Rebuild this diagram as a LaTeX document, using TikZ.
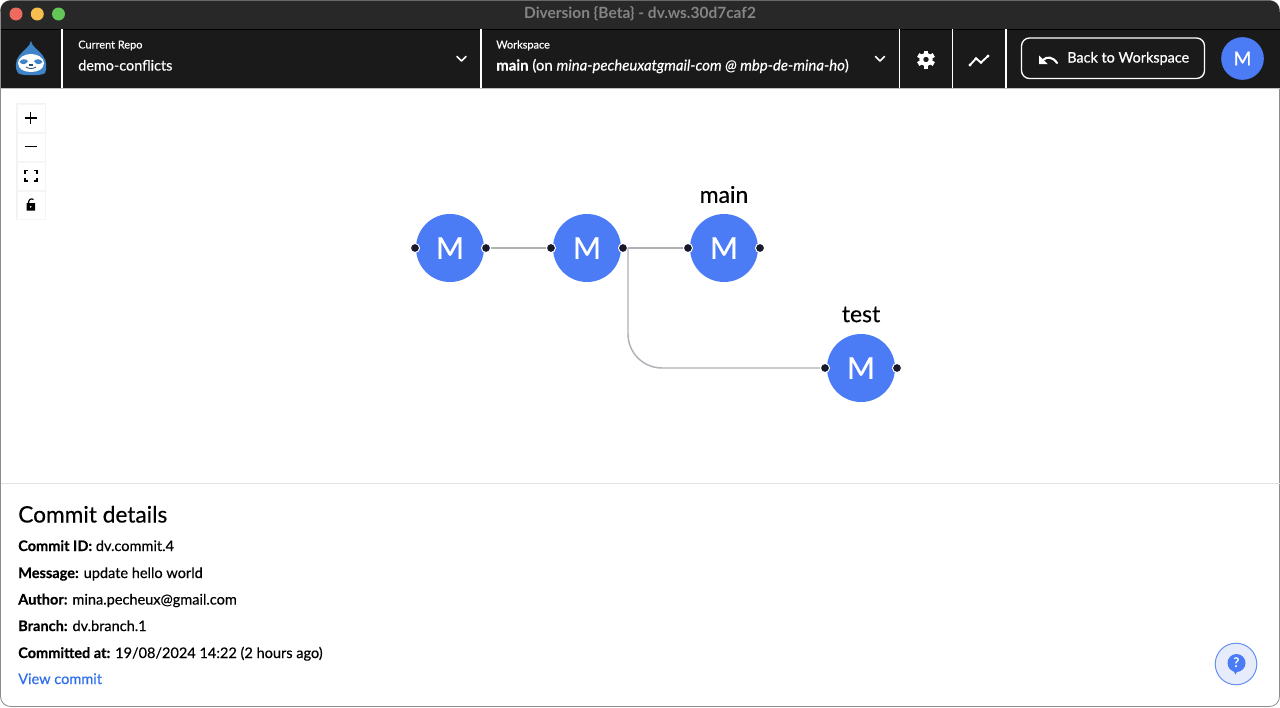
\documentclass[tikz,border=0pt]{standalone}
\usepackage{fontspec}
\setmainfont{Lato}
\newfontfamily\medfont[RawFeature={embolden=0.35}]{Lato}
\newfontfamily\semifont[RawFeature={embolden=0.7}]{Lato}
\usetikzlibrary{calc}
\definecolor{titlebar}{HTML}{282828}
\definecolor{barblack}{HTML}{1A1A1A}
\definecolor{nodeblue}{HTML}{4B7BF5}
\definecolor{edgegrey}{HTML}{B1B1B7}
\definecolor{handleblack}{HTML}{1A192B}
\definecolor{linkblue}{HTML}{2F6FED}
\definecolor{panelline}{HTML}{E2E2E2}
\definecolor{helpfill}{HTML}{E6ECFC}
\definecolor{logoblue}{HTML}{3F83C8}
\tikzset{
  x=0.75pt,y=-0.75pt,
  commit/.style={circle,fill=nodeblue,minimum size=51pt,inner sep=0pt,text=white,font=\semifont\fontsize{22.5}{24}\selectfont},
  handle/.style={circle,fill=handleblack,draw=white,line width=0.75pt,minimum size=6.8pt,inner sep=0pt},
  edge/.style={draw=edgegrey,line width=1.1pt},
  branch/.style={font=\medfont\fontsize{17.2}{20}\selectfont,text=black},
  barlabel/.style={anchor=base west,text=white,inner sep=0pt,font=\medfont\fontsize{8.2}{10}\selectfont},
  barvalue/.style={anchor=base west,text=white,inner sep=0pt,font=\medfont\fontsize{10.8}{13}\selectfont},
  sep/.style={draw=white,line width=1pt},
  chev/.style={draw=white,line width=1.3pt,line cap=round,line join=round},
  detail/.style={anchor=base west,inner sep=0pt,font=\medfont\fontsize{10.9}{13}\selectfont,text=black},
  ctrl/.style={draw=black!4,fill=white,line width=0.5pt},
  ctrlicon/.style={draw=black,line width=1pt},
}
\begin{document}
\begin{tikzpicture}
\useasboundingbox (0,0) rectangle (1280,707);
\fill[white] (0,0) rectangle (1280,707);
% window
\draw[fill=white,draw=black!45,line width=0.6pt,rounded corners=7.5pt] (0.5,0.5) rectangle (1279.5,706.5);
\fill[titlebar,rounded corners=7.5pt] (0.5,0.5) rectangle (1279.5,20);
\fill[titlebar] (0.5,12) rectangle (1279.5,29);
\fill[barblack] (0.5,29) rectangle (1279.5,88);
\draw[black,line width=0.5pt] (0.5,29) -- (1279.5,29);
\draw[draw=black!25,line width=0.6pt] (0.5,88.5) -- (1279.5,88.5);
\node[text=black!48!white,font=\bfseries\fontsize{11.6}{14}\selectfont,inner sep=0pt] (title) at (640,13.5) {Diversion \{Beta\} - dv.ws.30d7caf2};
\fill[color={rgb,255:red,238;green,106;blue,95}] (16,14) circle (6.5);
\fill[color={rgb,255:red,245;green,190;blue,79}] (37.3,14) circle (6.5);
\fill[color={rgb,255:red,98;green,197;blue,85}] (58.5,14) circle (6.5);
% logo
\fill[logoblue] (31,41) .. controls (32,47) and (38,49) .. (43,56) .. controls (47,60) and (47,70) .. (45,73) .. controls (43,76) and (20,76) .. (18,73) .. controls (15,70) and (15,60) .. (19,56) .. controls (23,50) and (30,47) .. (31,41) -- cycle;
\fill[white] (31,54) .. controls (38,54) and (44,58) .. (44,63) .. controls (44,69) and (38,72) .. (31,72) .. controls (24,72) and (18,69) .. (18,63) .. controls (18,58) and (24,54) .. (31,54) -- cycle;
\fill[logoblue] (19.5,62) .. controls (22,58) and (26,59) .. (28,61) .. controls (26,65) and (22,65) .. (19.5,62) -- cycle;
\fill[logoblue] (42.5,62) .. controls (40,58) and (36,59) .. (34,61) .. controls (36,65) and (40,65) .. (42.5,62) -- cycle;
\fill[logoblue!60!black] (29,63.5) rectangle (33,65.5);
\draw[logoblue!60!black,line width=0.6pt] (26,67) .. controls (29,69) and (33,69) .. (36,67);
% separators
\foreach \xx in {62,481,899.5,952.5,1006}{\draw[sep] (\xx,29) -- (\xx,88);}
% bar texts
\node[barlabel] (repoLabel) at (78,48.5) {Current Repo};
\node[barvalue] (repoValue) at (78,70.5) {demo-conflicts};
\node[barlabel] (wsLabel) at (496,48.5) {Workspace};
\node[barvalue,font=\medfont\fontsize{11.2}{13}\selectfont] (wsValue) at (496,70.5) {\textbf{main} (on \textit{mina-pecheuxatgmail-com @ mbp-de-mina-ho})};
\draw[chev] (457,56.5) -- (461.5,61) -- (466,56.5);
\draw[chev] (875.5,56.5) -- (880,61) -- (884.5,56.5);
% gear
\fill[white,even odd rule] (926,59.5) circle (6.6) (926,59.5) circle (2.8);
\foreach \a in {0,60,...,300}{\fill[white,rotate around={\a:(926,59.5)}] (923.8,50.5) rectangle (928.2,55);}
% activity
\draw[white,line width=1.4pt,line join=round,line cap=round] (970,65) -- (976,58.5) -- (981,62.5) -- (988,56);
\foreach \p in {(970,65),(976,58.5),(981,62.5),(988,56)}{\fill[white] \p circle (1.7);}
% back button
\draw[white,line width=1pt,rounded corners=6pt,fill=barblack] (1021.5,38) rectangle (1204.5,78.5);
\draw[white,line width=1.6pt,line cap=round] (1043,60) .. controls (1047,56) and (1053,57) .. (1057,63);
\fill[white] (1039,55.5) -- (1039,64) -- (1047.5,64) -- cycle;
\node[anchor=base west,text=white,inner sep=0pt,font=\semifont\fontsize{10.8}{13}\selectfont] (back) at (1067,62.5) {Back to Workspace};
\node[circle,fill=nodeblue,minimum size=32pt,inner sep=0pt,text=white,font=\semifont\fontsize{14.5}{16}\selectfont] (avatar) at (1242.5,58.5) {M};
% zoom controls
\fill[black!5] (16,103) rectangle (46,220);
\foreach \yy in {104,133,162,191}{\filldraw[ctrl] (17,\yy) rectangle (45,\yy+28.5);}
\draw[ctrlicon] (24.5,118) -- (37,118) (30.75,111.5) -- (30.75,124);
\draw[ctrlicon] (24.5,146.8) -- (37,146.8);
\draw[ctrlicon,line width=0.9pt] (25,173.5) -- (25,170.5) -- (28,170.5) (34,170.5) -- (37,170.5) -- (37,173.5) (37,178) -- (37,181) -- (34,181) (28,181) -- (25,181) -- (25,178);
\fill[black,even odd rule] (26.5,203) rectangle (35,210.5) (30.7,206.8) circle (1.2);
\draw[black,line width=0.9pt] (28.5,203) .. controls (28.5,199.5) and (31,198) .. (33.5,199.5);
% graph
\node[commit] (c1) at (450,248) {M};
\node[commit] (c2) at (587,248) {M};
\node[commit] (c3) at (724,248) {M};
\node[commit] (c4) at (861,368) {M};
\node[handle] (c1l) at (415,248) {};
\node[handle] (c1r) at (486,248) {};
\node[handle] (c2l) at (551,248) {};
\node[handle] (c2r) at (623,248) {};
\node[handle] (c3l) at (688,248) {};
\node[handle] (c3r) at (760,248) {};
\node[handle] (c4l) at (825,368) {};
\node[handle] (c4r) at (897,368) {};
\coordinate (bend) at (628,248);
\coordinate (low) at (628,368);
\draw[edge] (c1r) -- (c2l);
\draw[edge] (c2r) -- (c3l);
\draw[edge,rounded corners=25.5pt] (bend) -- (low) -- (c4l);
\node[branch] (mainlabel) at (724,194.5) {main};
\node[branch] (testlabel) at (861,314.5) {test};
% details
\draw[panelline,line width=1pt] (0.5,483.5) -- (1279.5,483.5);
\node[anchor=base west,inner sep=0pt,font=\medfont\fontsize{17}{20}\selectfont,text=black] (detailsTitle) at (18,522.5) {Commit details};
\node[detail] (d1) at (18,551) {\textbf{Commit ID:} dv.commit.4};
\node[detail] (d2) at (18,578) {\textbf{Message:} update hello world};
\node[detail] (d3) at (18,604.5) {\textbf{Author:} mina.pecheux@gmail.com};
\node[detail] (d4) at (18,631) {\textbf{Branch:} dv.branch.1};
\node[detail] (d5) at (18,658) {\textbf{Committed at:} 19/08/2024 14:22 (2 hours ago)};
\node[detail,text=linkblue] (d6) at (18,684) {View commit};
% help
\filldraw[fill=helpfill,draw=nodeblue!85!white,line width=0.75pt] (1236,664) circle (20.8);
\fill[nodeblue] (1236.5,663) circle (9);
\fill[nodeblue] (1233,670) -- (1238,670) -- (1235.5,674.5) -- cycle;
\node[text=white,inner sep=0pt,font=\bfseries\fontsize{10}{12}\selectfont] (helpq) at (1236.5,663) {?};
\end{tikzpicture}
\end{document}
